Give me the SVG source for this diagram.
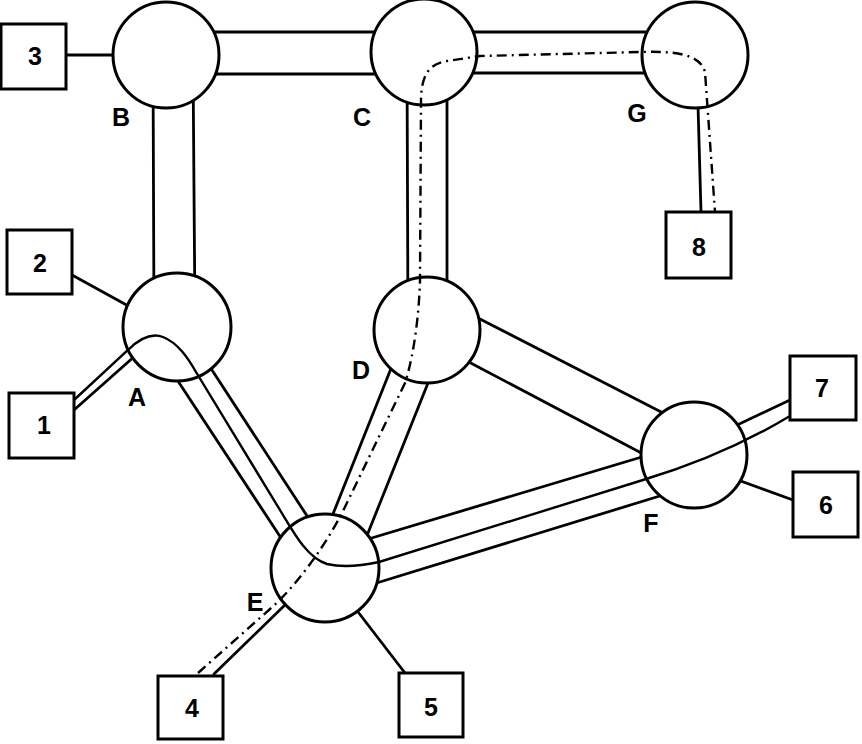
<svg xmlns="http://www.w3.org/2000/svg" width="862" height="744" viewBox="0 0 862 744">
<style>
.bg{fill:#fff}
.edge{stroke:#000;stroke-width:2.8;fill:none;stroke-linecap:round}
.node circle{fill:#fff;stroke:#000;stroke-width:3}
.term rect{fill:#fff;stroke:#000;stroke-width:3}
.lbl{font-family:"Liberation Sans",Arial,sans-serif;font-weight:bold;font-size:25px;fill:#000;text-anchor:middle}
.route1{stroke:#000;stroke-width:2.4;fill:none}
.route2{stroke:#000;stroke-width:2.4;fill:none;stroke-dasharray:10 5 2 5}
</style>
<rect class="bg" x="0" y="0" width="862" height="744"/>
<g id="connectors">
  <line class="edge" x1="166" y1="32" x2="424" y2="32"/>
  <line class="edge" x1="166" y1="74" x2="424" y2="74"/>
  <line class="edge" x1="424" y1="32" x2="695" y2="32"/>
  <line class="edge" x1="424" y1="73" x2="695" y2="73"/>
  <line class="edge" x1="153" y1="60" x2="154" y2="320"/>
  <line class="edge" x1="193" y1="60" x2="195" y2="320"/>
  <line class="edge" x1="407" y1="60" x2="408" y2="325"/>
  <line class="edge" x1="447" y1="60" x2="447" y2="325"/>
  <line class="edge" x1="476" y1="317" x2="667" y2="415"/>
  <line class="edge" x1="465" y1="360" x2="647" y2="456"/>
  <line class="edge" x1="392" y1="366" x2="331" y2="519"/>
  <line class="edge" x1="430" y1="378" x2="366" y2="538"/>
  <line class="edge" x1="174" y1="375" x2="283" y2="541"/>
  <line class="edge" x1="210" y1="367" x2="311" y2="522"/>
  <line class="edge" x1="365" y1="540" x2="645" y2="456"/>
  <line class="edge" x1="370" y1="585" x2="663" y2="495"/>
  <line class="edge" x1="66" y1="55" x2="118" y2="55"/>
  <line class="edge" x1="72" y1="275" x2="132" y2="308"/>
  <line class="edge" x1="74" y1="410" x2="136" y2="355"/>
  <line class="edge" x1="698" y1="105" x2="701" y2="212"/>
  <line class="edge" x1="735" y1="426" x2="790" y2="400"/>
  <line class="edge" x1="738" y1="480" x2="793" y2="500"/>
  <line class="edge" x1="288" y1="602" x2="214" y2="674"/>
  <line class="edge" x1="355" y1="608" x2="405" y2="673"/>
</g>
<g id="node-B" class="node"><circle cx="166" cy="55" r="53"/><text class="lbl" x="121" y="126">B</text></g>
<g id="node-C" class="node"><circle cx="424" cy="52" r="53"/><text class="lbl" x="362" y="126">C</text></g>
<g id="node-G" class="node"><circle cx="695" cy="55" r="53"/><text class="lbl" x="637" y="122">G</text></g>
<g id="node-A" class="node"><circle cx="177" cy="327" r="54"/><text class="lbl" x="137" y="406">A</text></g>
<g id="node-D" class="node"><circle cx="427" cy="330" r="53"/><text class="lbl" x="361" y="379">D</text></g>
<g id="node-E" class="node"><circle cx="325" cy="568" r="54"/><text class="lbl" x="255" y="611">E</text></g>
<g id="node-F" class="node"><circle cx="694" cy="455" r="53"/><text class="lbl" x="651" y="532">F</text></g>
<g id="term-3" class="term"><rect x="1" y="24" width="65" height="65"/><text class="lbl" x="35" y="65">3</text></g>
<g id="term-2" class="term"><rect x="7" y="230" width="65" height="64"/><text class="lbl" x="40" y="272">2</text></g>
<g id="term-1" class="term"><rect x="9" y="393" width="65" height="65"/><text class="lbl" x="44" y="434">1</text></g>
<g id="term-8" class="term"><rect x="666" y="212" width="65" height="66"/><text class="lbl" x="699" y="256">8</text></g>
<g id="term-7" class="term"><rect x="790" y="356" width="66" height="64"/><text class="lbl" x="822" y="397">7</text></g>
<g id="term-6" class="term"><rect x="793" y="472" width="65" height="65"/><text class="lbl" x="826" y="514">6</text></g>
<g id="term-4" class="term"><rect x="158" y="676" width="65" height="63"/><text class="lbl" x="192" y="717">4</text></g>
<g id="term-5" class="term"><rect x="399" y="673" width="64" height="64"/><text class="lbl" x="431" y="716">5</text></g>
<g id="routes">
  <path class="route1" d="M74 400 L128 350 C138 340 150 332 163 337 C178 343 188 358 196 372 L283 515 C295 535 308 558 327 564 C340 567 360 566 379 562 L643 480 C690 466 740 446 790 416"/>
  <path class="route2" d="M198 673 L270 609 C292 590 322 552 343 511 L405 383 C414 355 419 315 420 280 L421 102 C421 78 427 64 447 61 L480 56 L640 52 C672 51 700 53 705 72 L715 212"/>
</g>
</svg>
